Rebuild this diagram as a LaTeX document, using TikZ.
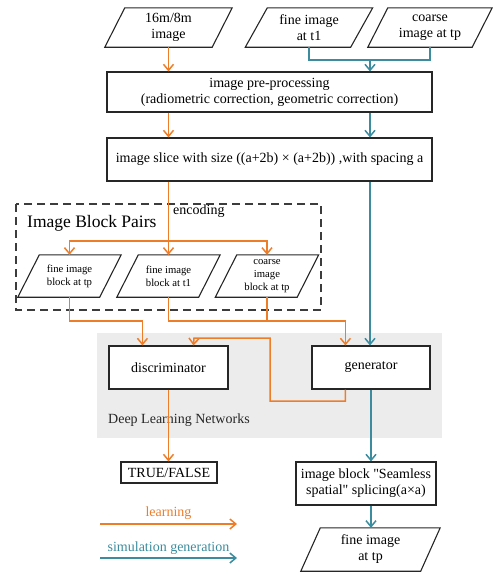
\documentclass[tikz,border=0pt]{standalone}
\usepackage{fontspec}
\setmainfont{Liberation Serif}[Ligatures=TeXOff]
\usetikzlibrary{arrows.meta,calc}
\definecolor{org}{HTML}{EE7D2A}
\definecolor{tl}{HTML}{3A8C9E}
\definecolor{bgg}{HTML}{ECECEC}
\definecolor{edge}{HTML}{262626}
\newcommand\mypara[7]{%
  \node[paratext,minimum width=#3,minimum height=#4,font=#6] (#1) at #2 {#7};
  \draw[paraline] ([xshift=-#5/2]#1.south west) -- ([xshift=-#5/2]#1.south east)
     -- ([xshift=#5/2]#1.north east) -- ([xshift=#5/2]#1.north west) -- cycle;}
\begin{document}
\begin{tikzpicture}[x=1pt,y=-1pt,
  box/.style={draw=edge,line width=1.1pt,fill=white,align=center,inner sep=0pt,
    font=\fontsize{14}{16}\selectfont},
  paratext/.style={align=center,inner sep=0pt},
  paraline/.style={draw=edge,line width=1.1pt},
  oline/.style={draw=org,line width=1.5pt},
  tline/.style={draw=tl,line width=1.5pt},
  arr/.style={-{Straight Barb[length=6pt,width=10pt]}},
  lbl/.style={inner sep=0pt,font=\fontsize{14}{16}\selectfont}]
\useasboundingbox (0,0) rectangle (493,574);
% background panel
\fill[bgg] (97,333) rectangle (442,438);
% dashed group
\draw[edge!90,line width=1.2pt,dash pattern=on 8pt off 5pt] (16,204) rectangle (321,310);
% top inputs
\mypara{p1}{(168.5,27.5)}{107}{39}{20}{\fontsize{14}{16}\selectfont}{16m/8m\\image}
\mypara{p2}{(309,27.5)}{105}{39}{22}{\fontsize{14}{16}\selectfont}{fine image\\at t1}
\mypara{p3}{(430,27.5)}{104}{39}{20}{\fontsize{14}{16}\selectfont}{coarse\\image at tp}
% boxes
\node[box,minimum width=325,minimum height=40] (pre) at (269.5,92)
  {image pre-processing\\(radiometric correction, geometric correction)};
\node[box,minimum width=325,minimum height=43] (slice) at (269.5,159.5)
  {image slice with size ((a+2b) × (a+2b)) ,with spacing a};
% block pairs
\node[lbl,anchor=west] (enc) at (173,211) {encoding};
\node[lbl,anchor=west,font=\fontsize{17.5}{19}\selectfont] (ibp) at (27,223) {Image Block Pairs};
\mypara{pA}{(69.5,276)}{81.5}{42}{21.5}{\fontsize{10.7}{13}\selectfont}{fine image\\block at tp}
\mypara{pB}{(168.5,276)}{81.5}{42}{21.5}{\fontsize{10.7}{13}\selectfont}{fine image\\block at t1}
\mypara{pC}{(267,276)}{81.5}{42}{21.5}{\fontsize{10.7}{13}\selectfont}{coarse\\image\\block at tp}
% networks
\node[box,minimum width=119,minimum height=43] (disc) at (168.5,367.5) {discriminator};
\node[box,minimum width=118,minimum height=43] (gen) at (371,367.5) {generator};
\node[lbl,anchor=west,text=black!85] (dln) at (108,420) {Deep Learning Networks};
% outputs
\node[box,minimum width=96,minimum height=21] (tf) at (169,472.5) {TRUE/FALSE};
\node[box,minimum width=140,minimum height=43] (seam) at (366,483.5)
  {image block "Seamless\\spatial" splicing(a×a)};
\mypara{fp}{(370.5,549.5)}{119.5}{43}{19.5}{\fontsize{14}{16}\selectfont}{fine image\\at tp}
% junction coordinates
\coordinate (tj) at (370,60);
\coordinate (lvl) at (0,321);
\coordinate (din1) at ($(disc.north west)+(34,0)$);
\coordinate (din2) at ($(disc.north west)+(85,0)$);
\coordinate (gin) at ($(gen.north west)+(34,0)$);
\coordinate (gout) at ($(gen.south west)+(34,0)$);
\coordinate (ej) at (168.5,241);
% teal connectors
\draw[tline] (p2.south) |- (tj) -| (p3.south);
\draw[tline,arr] (tj) -- (tj |- pre.north);
\draw[tline,arr] (tj |- pre.south) -- (tj |- slice.north);
\draw[tline,arr] (tj |- slice.south) -- (tj |- gen.north);
\draw[tline,arr] (gen.south) -- (gen.south |- seam.north);
\draw[tline,arr] (gen.south |- seam.south) -- (gen.south |- fp.north);
% orange connectors
\draw[oline,arr] (p1.south) -- (p1.south |- pre.north);
\draw[oline,arr] (p1.south |- pre.south) -- (p1.south |- slice.north);
\draw[oline,arr] (pB.north |- slice.south) -- (pB.north);
\draw[oline,arr] (ej) -| (pA.north);
\draw[oline,arr] (ej) -| (pC.north);
\draw[oline,arr] (pA.south) -- (pA.south |- lvl) -| (din1);
\draw[oline,arr] (pB.south) -- (pB.south |- lvl) -| (gin);
\draw[oline] (pC.south) -- (pC.south |- lvl);
\draw[oline,arr] (gout) |- (270,401) |- (194,338) -- (din2);
\draw[oline,arr] (disc.south) -- (disc.south |- tf.north);
% legend
\coordinate (la) at (100,524); \coordinate (lb) at (237,524);
\coordinate (ta) at (100,558); \coordinate (tb) at (237,558);
\draw[oline,arr] (la) -- (lb);
\draw[tline,arr] (ta) -- (tb);
\node[lbl,text=org] (learn) at (168.5,513) {learning};
\node[lbl,text=tl] (simg) at (168.5,548) {simulation generation};
\end{tikzpicture}
\end{document}
